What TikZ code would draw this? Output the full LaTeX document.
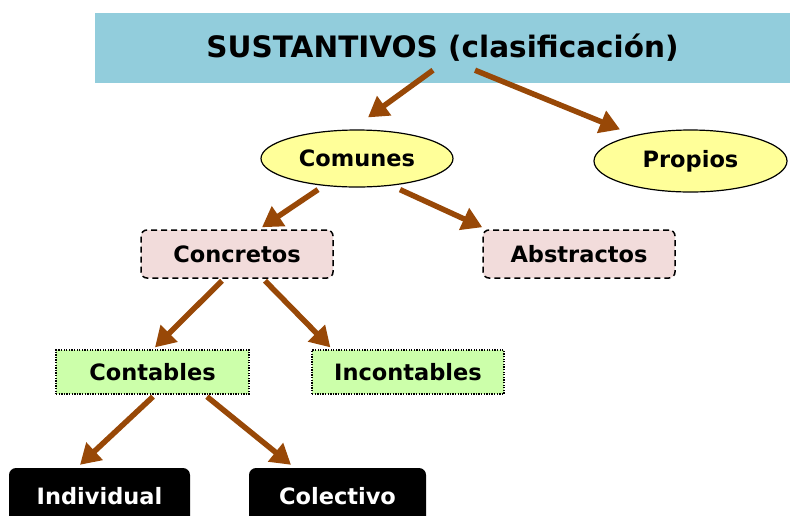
\documentclass[tikz,border=0pt]{standalone}
\usepackage{fontspec}
\setmainfont{DejaVu Sans}
\usetikzlibrary{shapes.geometric,arrows.meta}
\definecolor{titlebg}{RGB}{146,205,220}
\definecolor{ellfill}{RGB}{255,255,153}
\definecolor{pinkfill}{RGB}{242,220,219}
\definecolor{greenfill}{RGB}{204,255,170}
\definecolor{brownarr}{RGB}{152,72,7}
\tikzset{
  x=1pt, y=-1pt,
  every node/.style={inner sep=0pt, font=\bfseries\fontsize{22.5}{26}\selectfont},
  titlebox/.style={rectangle, fill=titlebg, minimum width=695pt, minimum height=70pt, font=\bfseries\fontsize{29.5}{34}\selectfont},
  ellnode/.style={ellipse, draw=black, line width=1.2pt, fill=ellfill},
  pinkbox/.style={rectangle, rounded corners=6pt, draw=black, dashed, dash pattern=on 6pt off 4pt, line width=1.5pt, fill=pinkfill, minimum width=192pt, minimum height=48pt},
  greenbox/.style={rectangle, draw=black, dash pattern=on 1.3pt off 1.3pt, line width=1.3pt, fill=greenfill, minimum width=193pt, minimum height=44pt},
  blackbox/.style={rectangle, rounded corners=7pt, fill=black, text=white, minimum height=56pt},
  arr/.style={draw=brownarr, line width=5.5pt, -{Triangle[length=20pt,width=23pt]}}
}
\begin{document}
\begin{tikzpicture}
\useasboundingbox (0,0) rectangle (791,515);
\node[titlebox] (title) at (442.5,48) {SUSTANTIVOS (clasificación)};
\node[ellnode, minimum width=192pt, minimum height=57pt] (com) at (357,158.5) {Comunes};
\node[ellnode, minimum width=193pt, minimum height=62pt] (prop) at (690.5,161) {Propios};
\node[pinkbox] (conc) at (237,254) {Concretos};
\node[pinkbox] (abs) at (579,254) {Abstractos};
\node[greenbox] (cont) at (152.5,372) {Contables};
\node[greenbox, minimum width=192pt] (incont) at (408,372) {Incontables};
\node[blackbox, minimum width=181pt] (ind) at (99.5,496) {Individual};
\node[blackbox, minimum width=177pt] (col) at (337.5,496) {Colectivo};
\draw[arr] ([xshift=-9.5pt,yshift=13pt]title.south) -- ([xshift=11pt,yshift=12pt]com.north);
\draw[arr] ([xshift=32.5pt,yshift=13pt]title.south) -- ([xshift=-70.5pt,yshift=0pt]prop.north);
\draw[arr] ([xshift=-39pt,yshift=-2pt]com.south) -- ([xshift=25pt,yshift=2pt]conc.north);
\draw[arr] ([xshift=43pt,yshift=-2pt]com.south) -- ([xshift=0pt,yshift=2pt]abs.north west);
\draw[arr] ([xshift=-15pt,yshift=-2pt]conc.south) -- ([xshift=2.5pt,yshift=2pt]cont.north);
\draw[arr] ([xshift=28pt,yshift=-2pt]conc.south) -- ([xshift=19pt,yshift=2pt]incont.north west);
\draw[arr] ([xshift=0.5pt,yshift=-2pt]cont.south) -- ([xshift=-19.5pt,yshift=3pt]ind.north);
\draw[arr] ([xshift=54.5pt,yshift=-2pt]cont.south) -- ([xshift=-46.5pt,yshift=3pt]col.north);
\end{tikzpicture}
\end{document}
